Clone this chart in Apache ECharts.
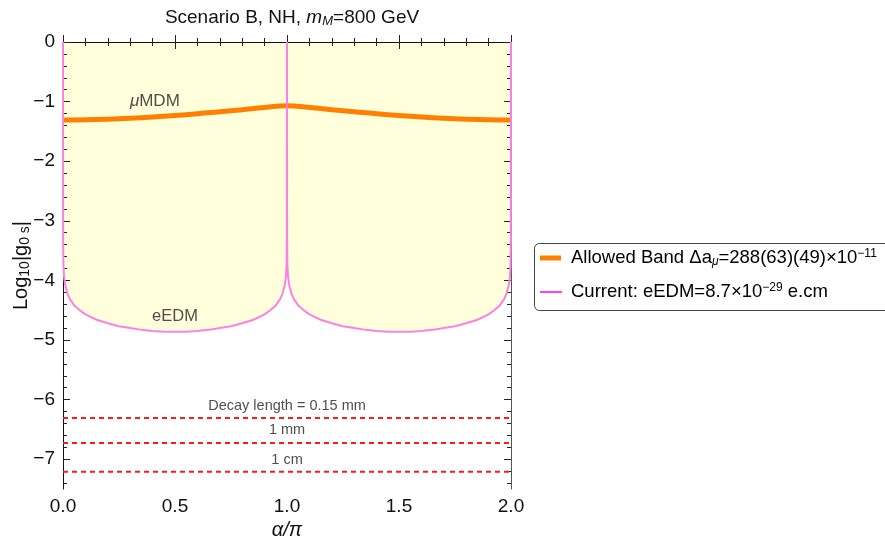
<!DOCTYPE html>
<html>
<head>
    <meta charset="utf-8">
    <title>Scenario B</title>
    <script type="text/javascript" src="https://cdn.jsdelivr.net/npm/echarts@6/dist/echarts.min.js"></script>
    <style>
        html, body { margin: 0; padding: 0; background: #fff; }
    </style>
</head>
<body>
    <div id="main" style="width: 885px;height:545px;"></div>
    <script type="text/javascript">
        // eEDM bound curve (alpha/pi, log10 |g0 s|)
        var edmX = [0, 0.0005, 0.002, 0.005, 0.01, 0.02, 0.03, 0.05, 0.075, 0.1, 0.15, 0.2, 0.25, 0.3, 0.35, 0.4, 0.45, 0.5,
                    0.55, 0.6, 0.65, 0.7, 0.75, 0.8, 0.85, 0.9, 0.925, 0.95, 0.97, 0.98, 0.99, 0.995, 0.998, 0.9995, 1,
                    1.0005, 1.002, 1.005, 1.01, 1.02, 1.03, 1.05, 1.075, 1.1, 1.15, 1.2, 1.25, 1.3, 1.35, 1.4, 1.45, 1.5,
                    1.55, 1.6, 1.65, 1.7, 1.75, 1.8, 1.85, 1.9, 1.925, 1.95, 1.97, 1.98, 1.99, 1.995, 1.998, 1.9995, 2];
        var edmY = [0, -3.3, -3.75, -3.95, -4.08, -4.22, -4.31, -4.42, -4.5, -4.57, -4.66, -4.72, -4.77, -4.8, -4.83, -4.85, -4.86, -4.86,
                    -4.86, -4.85, -4.83, -4.8, -4.77, -4.72, -4.66, -4.57, -4.5, -4.42, -4.31, -4.22, -4.08, -3.95, -3.75, -3.3, 0,
                    -3.3, -3.75, -3.95, -4.08, -4.22, -4.31, -4.42, -4.5, -4.57, -4.66, -4.72, -4.77, -4.8, -4.83, -4.85, -4.86, -4.86,
                    -4.86, -4.85, -4.83, -4.8, -4.77, -4.72, -4.66, -4.57, -4.5, -4.42, -4.31, -4.22, -4.08, -3.95, -3.75, -3.3, 0];

        // muon MDM allowed band
        var mdmX = [0, 0.1, 0.2, 0.3, 0.4, 0.5, 0.6, 0.7, 0.8, 0.9, 1.0, 1.1, 1.2, 1.3, 1.4, 1.5, 1.6, 1.7, 1.8, 1.9, 2.0];
        var mdmY = [-1.31, -1.305, -1.295, -1.28, -1.26, -1.235, -1.205, -1.17, -1.135, -1.1, -1.07,
                    -1.1, -1.135, -1.17, -1.205, -1.235, -1.26, -1.28, -1.295, -1.305, -1.31];

        // decay length levels
        var decayY = [-6.31, -6.73, -7.21];
        var decayNames = ['Decay length = 0.15 mm', '1 mm', '1 cm'];

        var yTicks = [0, -1, -2, -3, -4, -5, -6, -7];

        var FONT = 'Liberation Sans, Arial, Helvetica, sans-serif';

        function pairs(xs, ys) {
            return xs.map(function (x, i) { return [x, ys[i]]; });
        }

        var yMinor = [];
        for (var v = -7.4; v < 0; v += 0.2) {
            var r = Math.round(v * 10) / 10;
            if (Math.abs(r - Math.round(r)) > 0.01) yMinor.push(r);
        }

        var minus = function (val) { return String(val).replace('-', '\u2212'); };

        function yAx(pos, major, showLabel, color) {
            return {
                type: 'value', position: pos, min: -7.5, max: 0, z: 5,
                axisLine: { show: major, lineStyle: { color: color, width: 1 } },
                splitLine: { show: false },
                axisTick: { show: true, inside: true, length: major ? 7 : 4,
                            customValues: major ? yTicks : yMinor,
                            lineStyle: { color: '#222' } },
                axisLabel: { show: showLabel, customValues: yTicks, margin: 8, fontSize: 19,
                             fontFamily: FONT, color: '#111', formatter: minus }
            };
        }

        var yAxes = [yAx('left', true, true, '#111'), yAx('left', false, false, '#111'),
                     yAx('right', true, false, '#555'), yAx('right', false, false, '#555')];
        yAxes[0].name = '{n|Log}{s|10}{n||g}{s|0 s}{n||}';
        yAxes[0].nameLocation = 'middle';
        yAxes[0].nameGap = 31;
        yAxes[0].nameMoveOverlap = false;
        yAxes[0].nameTextStyle = {
            rich: {
                n: { fontSize: 20, fontFamily: FONT, color: '#111' },
                s: { fontSize: 14, fontFamily: FONT, color: '#111', padding: [8, 0, 0, 0] }
            }
        };

        function xAx(pos, showLabel, color) {
            return {
                type: 'value', position: pos, min: 0, max: 2, interval: 0.5, z: 5,
                axisLine: { show: true, lineStyle: { color: color, width: 1 } },
                splitLine: { show: false },
                axisTick: { show: true, inside: true, length: 7, lineStyle: { color: '#222' } },
                minorTick: { show: true, splitNumber: 5, length: 4, lineStyle: { color: '#222' } },
                axisLabel: { show: showLabel, margin: 8, fontSize: 19, fontFamily: FONT, color: '#111',
                             formatter: function (val) { return val.toFixed(1); } }
            };
        }
        var xAxes = [xAx('bottom', true, '#111'), xAx('top', false, '#111')];
        xAxes[0].name = '\u03b1/\u03c0';
        xAxes[0].nameLocation = 'middle';
        xAxes[0].nameGap = 31;
        xAxes[0].nameTextStyle = { fontSize: 20, fontStyle: 'italic', fontFamily: FONT, color: '#111' };

        var series = [
            {
                name: 'eEDM area', type: 'line', data: pairs(edmX, edmY), symbol: 'none', z: 1,
                lineStyle: { width: 0 }, areaStyle: { origin: 'end', color: '#ffffdb', opacity: 1 },
                silent: true
            }
        ];
        decayY.forEach(function (y, i) {
            series.push({
                name: decayNames[i], type: 'line', data: [[0, y], [2, y]], symbol: 'none', z: 6,
                lineStyle: { color: '#ff1a1a', width: 2, type: [5, 4] }, silent: true
            });
        });
        series.push({
            name: 'muMDM', type: 'line', data: pairs(mdmX, mdmY), symbol: 'none', smooth: true, z: 7,
            lineStyle: { color: '#ff8000', width: 5 }
        });
        series.push({
            name: 'eEDM', type: 'line', data: pairs(edmX, edmY), symbol: 'none', z: 8,
            lineStyle: { color: '#ff80e4', width: 2 }
        });

        // text notes placed in data coordinates
        var notes = [
            { value: [1.0, -6.11], name: decayNames[0], size: 14.5 },
            { value: [1.0, -6.51], name: decayNames[1], size: 14.5 },
            { value: [1.0, -7.01], name: decayNames[2], size: 14.5 },
            { value: [0.41, -1.0], name: '{i|\u03bc}MDM', size: 17 },
            { value: [0.5, -4.61], name: 'eEDM', size: 16.5 }
        ];
        series.push({
            type: 'scatter', symbolSize: 1, silent: true, z: 9,
            itemStyle: { color: 'rgba(0,0,0,0)' },
            data: notes.map(function (n) {
                return {
                    value: n.value, name: n.name,
                    label: { show: true, position: 'inside', formatter: n.name, fontSize: n.size,
                             fontFamily: FONT, color: '#222',
                             rich: { i: { fontStyle: 'italic', fontSize: n.size, fontFamily: FONT, color: '#222' } } }
                };
            })
        });

        var legendRich = {
            t: { fontSize: 18.5, fontFamily: FONT, color: '#111' },
            sub: { fontSize: 12, fontFamily: FONT, fontStyle: 'italic', color: '#111', padding: [8, 0, 0, 0] },
            sup: { fontSize: 12, fontFamily: FONT, color: '#111', padding: [0, 0, 9, 0] }
        };

        var option = {
            animation: false,
            backgroundColor: '#ffffff',
            title: {
                text: '{t|Scenario B, NH, }{i|m}{s|M}{t|=800 GeV}',
                left: 287, top: 3, textAlign: 'center',
                textStyle: {
                    fontWeight: 'normal',
                    rich: {
                        t: { fontSize: 19, fontWeight: 'normal', fontFamily: FONT, color: '#111' },
                        i: { fontSize: 19, fontWeight: 'normal', fontFamily: FONT, fontStyle: 'italic', color: '#111' },
                        s: { fontSize: 13, fontWeight: 'normal', fontFamily: FONT, fontStyle: 'italic', color: '#111', padding: [7, 0, 0, 0] }
                    }
                }
            },
            grid: { left: 63, right: 374, top: 42, bottom: 56, outerBoundsMode: 'none' },
            xAxis: xAxes,
            yAxis: yAxes,
            series: series,
            graphic: [
                { type: 'rect', shape: { x: 534.5, y: 243.5, width: 380, height: 67, r: 5 },
                  style: { fill: '#fff', stroke: '#444', lineWidth: 1 } },
                { type: 'rect', shape: { x: 540, y: 255.5, width: 21, height: 5 },
                  style: { fill: '#ff8000' } },
                { type: 'line', shape: { x1: 540, y1: 292, x2: 562, y2: 292 },
                  style: { stroke: '#ff00ff', lineWidth: 1.5 } },
                { type: 'text', x: 571, y: 258,
                  style: { text: '{t|Allowed Band \u0394a}{sub|\u03bc}{t|=288(63)(49)\u00d710}{sup|\u221211}',
                           rich: legendRich, verticalAlign: 'middle' } },
                { type: 'text', x: 571, y: 292,
                  style: { text: '{t|Current: eEDM=8.7\u00d710}{sup|\u221229}{t| e.cm}',
                           rich: legendRich, verticalAlign: 'middle' } }
            ]
        };

        echarts.init(document.getElementById('main')).setOption(option);
    </script>
</body>
</html>
